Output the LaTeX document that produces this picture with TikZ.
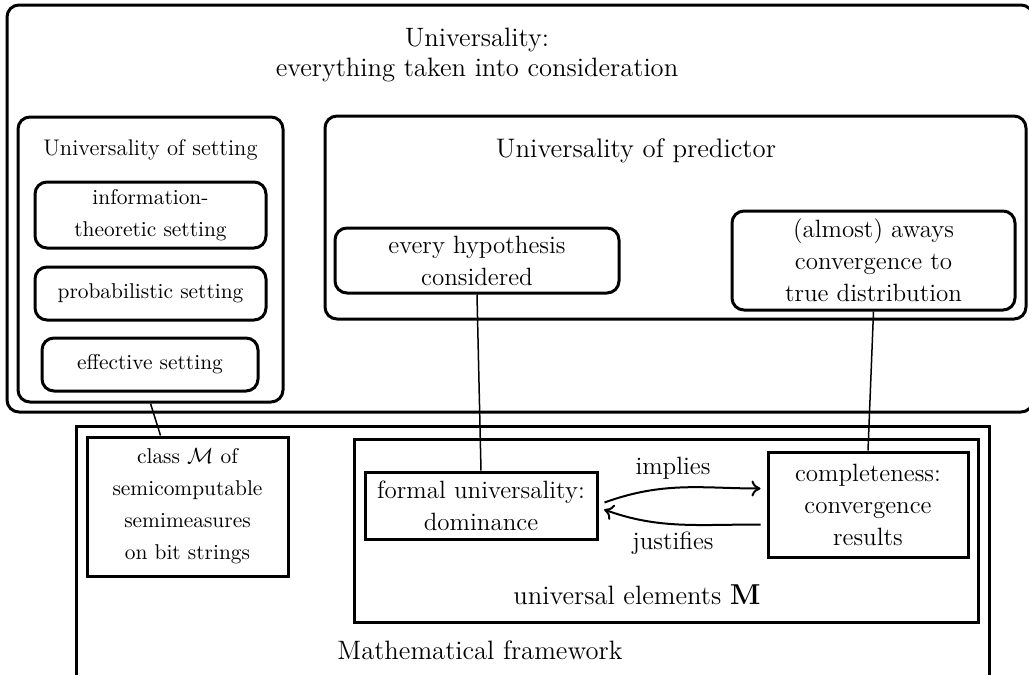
\documentclass[tikz,border=0pt]{standalone}
\usepackage{amsmath}
\usetikzlibrary{arrows.meta}
\begin{document}
\begin{tikzpicture}[x=0.5pt,y=-0.5pt,
  frame/.style={draw, line width=1.5pt, inner sep=0pt},
  rbox/.style={draw, line width=1.5pt, rounded corners=6pt, align=center, inner sep=1.5pt},
  sbox/.style={draw, line width=1.5pt, align=center, inner sep=1.5pt},
  link/.style={line width=0.75pt},
  arr/.style={line width=1pt, -{To[length=4.5pt,width=8pt]}},
  ftitle/.style={font=\fontsize{13.3}{15}\selectfont},
  fpred/.style={font=\fontsize{13.4}{16}\selectfont},
  fset/.style={font=\fontsize{11.3}{16}\selectfont},
  fsmall/.style={font=\fontsize{10.7}{16}\selectfont},
  fmid/.style={font=\fontsize{12.5}{16}\selectfont},
  fbig/.style={font=\fontsize{13.3}{16}\selectfont}]
\clip (0,0) rectangle (1029,675);
% containers
\node[frame, rounded corners=6pt, minimum width=513pt, minimum height=203.5pt] (outer) at (520,208.5) {};
\node[frame, rounded corners=6pt, minimum width=132.5pt, minimum height=142.5pt] (set) at (150.5,259.5) {};
\node[frame, rounded corners=6pt, minimum width=350.5pt, minimum height=101.5pt] (pred) at (675.5,217.5) {};
\node[frame, minimum width=456.5pt, minimum height=132pt] (fw) at (532.5,558) {};
\node[frame, minimum width=312pt, minimum height=91.5pt] (univ) at (666,530.5) {};
% container labels
\node[ftitle, align=center] (title) at (477,55) {Universality:\\everything taken into consideration};
\node[fset, anchor=base] (setlbl) at (150.5,155) {Universality of setting};
\node[fpred, anchor=base] (predlbl) at (636,157) {Universality of predictor};
\node[fbig, anchor=base] (univlbl) at (637,604) {universal elements $\mathbf{M}$};
\node[fbig, anchor=base] (fwlbl) at (480,659) {Mathematical framework};
% inner boxes
\node[rbox, fsmall, minimum width=115.5pt, minimum height=33pt] (info) at (150.5,215) {information-\\theoretic setting};
\node[rbox, fsmall, minimum width=115.5pt, minimum height=26.5pt] (prob) at (150.5,293.5) {probabilistic setting};
\node[rbox, fsmall, minimum width=108pt, minimum height=26.5pt] (eff) at (150,364.5) {effective setting};
\node[rbox, fmid, minimum width=142pt, minimum height=32.5pt] (hyp) at (477,260.5) {every hypothesis\\considered};
\node[rbox, fmid, minimum width=141.5pt, minimum height=49.5pt] (alm) at (873.5,260.5) {(almost) aways\\convergence to\\true distribution};
\node[sbox, fsmall, minimum width=100.5pt, minimum height=69.5pt] (cls) at (187.5,506.5) {class $\mathcal{M}$ of\\semicomputable\\semimeasures\\on bit strings};
\node[sbox, fmid, minimum width=116pt, minimum height=33.5pt] (formal) at (481,505.5) {formal universality:\\dominance};
\node[sbox, fmid, minimum width=100pt, minimum height=52.5pt] (comp) at (868,504.5) {completeness:\\convergence\\results};
% connectors
\draw[link] (set.south) -- ([xshift=37.5pt]cls.north west);
\draw[link] (hyp.south) -- (formal.north);
\draw[link] (alm.south) -- (comp.north);
\draw[arr, shorten >=3pt] ([xshift=3pt,yshift=1.5pt]formal.east) to[out=20,in=180] ([yshift=8pt]comp.west);
\draw[arr, shorten >=3pt] ([xshift=-3pt,yshift=-10pt]comp.west) to[out=180,in=-20] ([yshift=-1pt]formal.east);
\node[fmid, anchor=base] (impl) at (673,474) {implies};
\node[fmid, anchor=base] (just) at (673,549) {justifies};
\end{tikzpicture}
\end{document}
